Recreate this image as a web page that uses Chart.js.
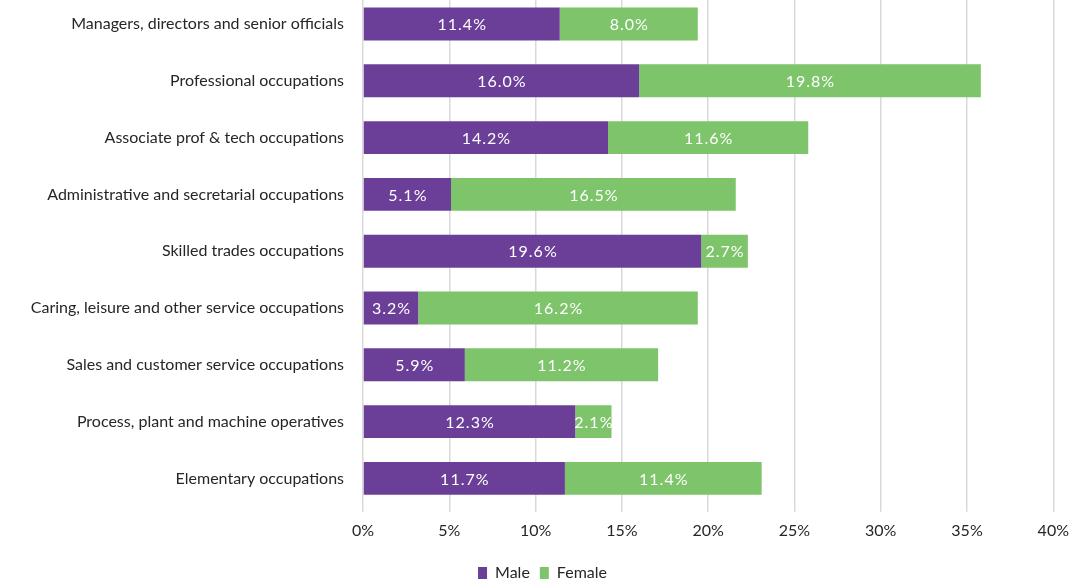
<!DOCTYPE html>
<html>
<head>
<meta charset="utf-8">
<script src="https://cdn.jsdelivr.net/npm/chart.js@4/dist/chart.umd.min.js"></script>
<style>
  html, body { margin: 0; padding: 0; background: #fff; overflow: hidden; }
  #wrap { position: absolute; left: 0; top: -33px; width: 1078px; height: 624px; }
</style>
</head>
<body>
<div id="wrap"><canvas id="chart"></canvas></div>
<script>
const occupations = [
    'Managers, directors and senior officials',
    'Professional occupations',
    'Associate prof & tech occupations',
    'Administrative and secretarial occupations',
    'Skilled trades occupations',
    'Caring, leisure and other service occupations',
    'Sales and customer service occupations',
    'Process, plant and machine operatives',
    'Elementary occupations'
];
const male = [11.4, 16.0, 14.2, 5.1, 19.6, 3.2, 5.9, 12.3, 11.7];
const female = [8.0, 19.8, 11.6, 16.5, 2.7, 16.2, 11.2, 2.1, 11.4];
const xTicks = [0, 5, 10, 15, 20, 25, 30, 35, 40];

const FONT = 'Lato, "Open Sans", sans-serif';

// white value labels in the middle of each segment
const barLabels = {
    id: 'barLabels',
    beforeDraw(chart) {
        // nudge the legend a bit right, like the original
        const lg = chart.legend;
        if (lg && !lg._nudged) {
            const draw = lg.draw.bind(lg);
            lg.draw = function () {
                chart.ctx.save();
                chart.ctx.translate(14, 0);
                draw();
                chart.ctx.restore();
            };
            lg._nudged = true;
        }
    },
    afterDatasetsDraw(chart) {
        const ctx = chart.ctx;
        ctx.save();
        ctx.font = '16px ' + FONT;
        ctx.letterSpacing = '1px';
        ctx.fillStyle = '#ffffff';
        ctx.textAlign = 'center';
        ctx.textBaseline = 'middle';
        chart.data.datasets.forEach((ds, i) => {
            chart.getDatasetMeta(i).data.forEach((bar, j) => {
                const p = bar.getProps(['x', 'y', 'base'], true);
                ctx.fillText(ds.data[j].toFixed(1) + '%', (p.x + p.base) / 2 + 0.5, p.y + 1);
            });
        });
        ctx.restore();
    }
};

new Chart(document.getElementById('chart'), {
    type: 'bar',
    data: {
        labels: occupations,
        datasets: [
            { label: 'Male', data: male, backgroundColor: '#6b3f98', categoryPercentage: 1, barPercentage: 0.58 },
            { label: 'Female', data: female, backgroundColor: '#7dc46a', categoryPercentage: 1, barPercentage: 0.58 }
        ]
    },
    options: {
        indexAxis: 'y',
        responsive: true,
        maintainAspectRatio: false,
        animation: false,
        layout: { padding: { left: 0, right: 21, top: 0, bottom: 0 } },
        scales: {
            x: {
                stacked: true,
                min: 0,
                max: 40,
                afterBuildTicks: scale => { scale.ticks = xTicks.map(v => ({ value: v })); },
                afterFit: scale => { scale.height += 6; },
                ticks: {
                    callback: v => v + '%',
                    color: '#262626',
                    font: { family: FONT, size: 16 },
                    padding: 9
                },
                grid: { color: '#d9d9d9', lineWidth: 1.5, tickLength: 5 },
                border: { display: false }
            },
            y: {
                stacked: true,
                afterFit: scale => { scale.width = 363; },
                ticks: {
                    color: '#262626',
                    font: { family: FONT, size: 16 },
                    padding: 19
                },
                grid: { display: false, drawTicks: false },
                border: { display: false }
            }
        },
        plugins: {
            legend: {
                position: 'bottom',
                labels: {
                    boxWidth: 9,
                    boxHeight: 12,
                    padding: 10,
                    color: '#262626',
                    font: { family: FONT, size: 16 }
                }
            },
            tooltip: { enabled: false }
        }
    },
    plugins: [barLabels]
});
</script>
</body>
</html>
